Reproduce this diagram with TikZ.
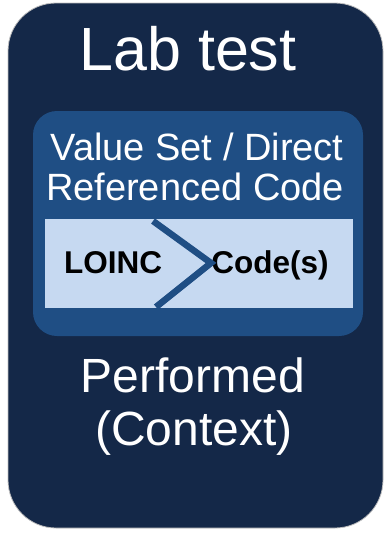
\documentclass[tikz,border=0pt]{standalone}
\usepackage{fontspec}
\setmainfont{Liberation Sans}
\usepackage{tikz}

\definecolor{navy}{RGB}{20,40,72}
\definecolor{midblue}{RGB}{31,78,132}
\definecolor{paleblue}{RGB}{198,217,241}

\tikzset{
  label/.style={text=white, anchor=base, inner sep=0pt},
  code/.style={text=black, anchor=base, inner sep=0pt, font=\fontsize{31.5}{31.5}\selectfont\bfseries}
}

\begin{document}
\begin{tikzpicture}[x=1pt,y=-1pt]

\useasboundingbox (0,0) rectangle (385,533);

\filldraw[navy, draw=gray!50, line width=0.8pt, rounded corners=48pt] (8,3) rectangle (383,528);
\fill[midblue, rounded corners=24pt] (33,111) rectangle (363,336);
\fill[paleblue] (45,219) rectangle (353,308);

\node[label, font=\fontsize{61}{61}\selectfont] (title) at (188,70) {Lab test};
\node[label, font=\fontsize{38}{38}\selectfont] (vs1) at (197,160) {Value Set / Direct};
\node[label, font=\fontsize{38}{38}\selectfont] (vs2) at (195,200) {Referenced Code};

\node[code] (loinc) at (113,273) {LOINC};
\node[code] (codes) at (270,273) {Code(s)};

\draw[midblue, line width=6.5pt] (153,221) -- (211,263) -- (156,307);

\node[label, font=\fontsize{48}{48}\selectfont] (perf) at (193,392) {Performed};
\node[label, font=\fontsize{48}{48}\selectfont] (ctx) at (194,445) {(Context)};

\end{tikzpicture}
\end{document}
